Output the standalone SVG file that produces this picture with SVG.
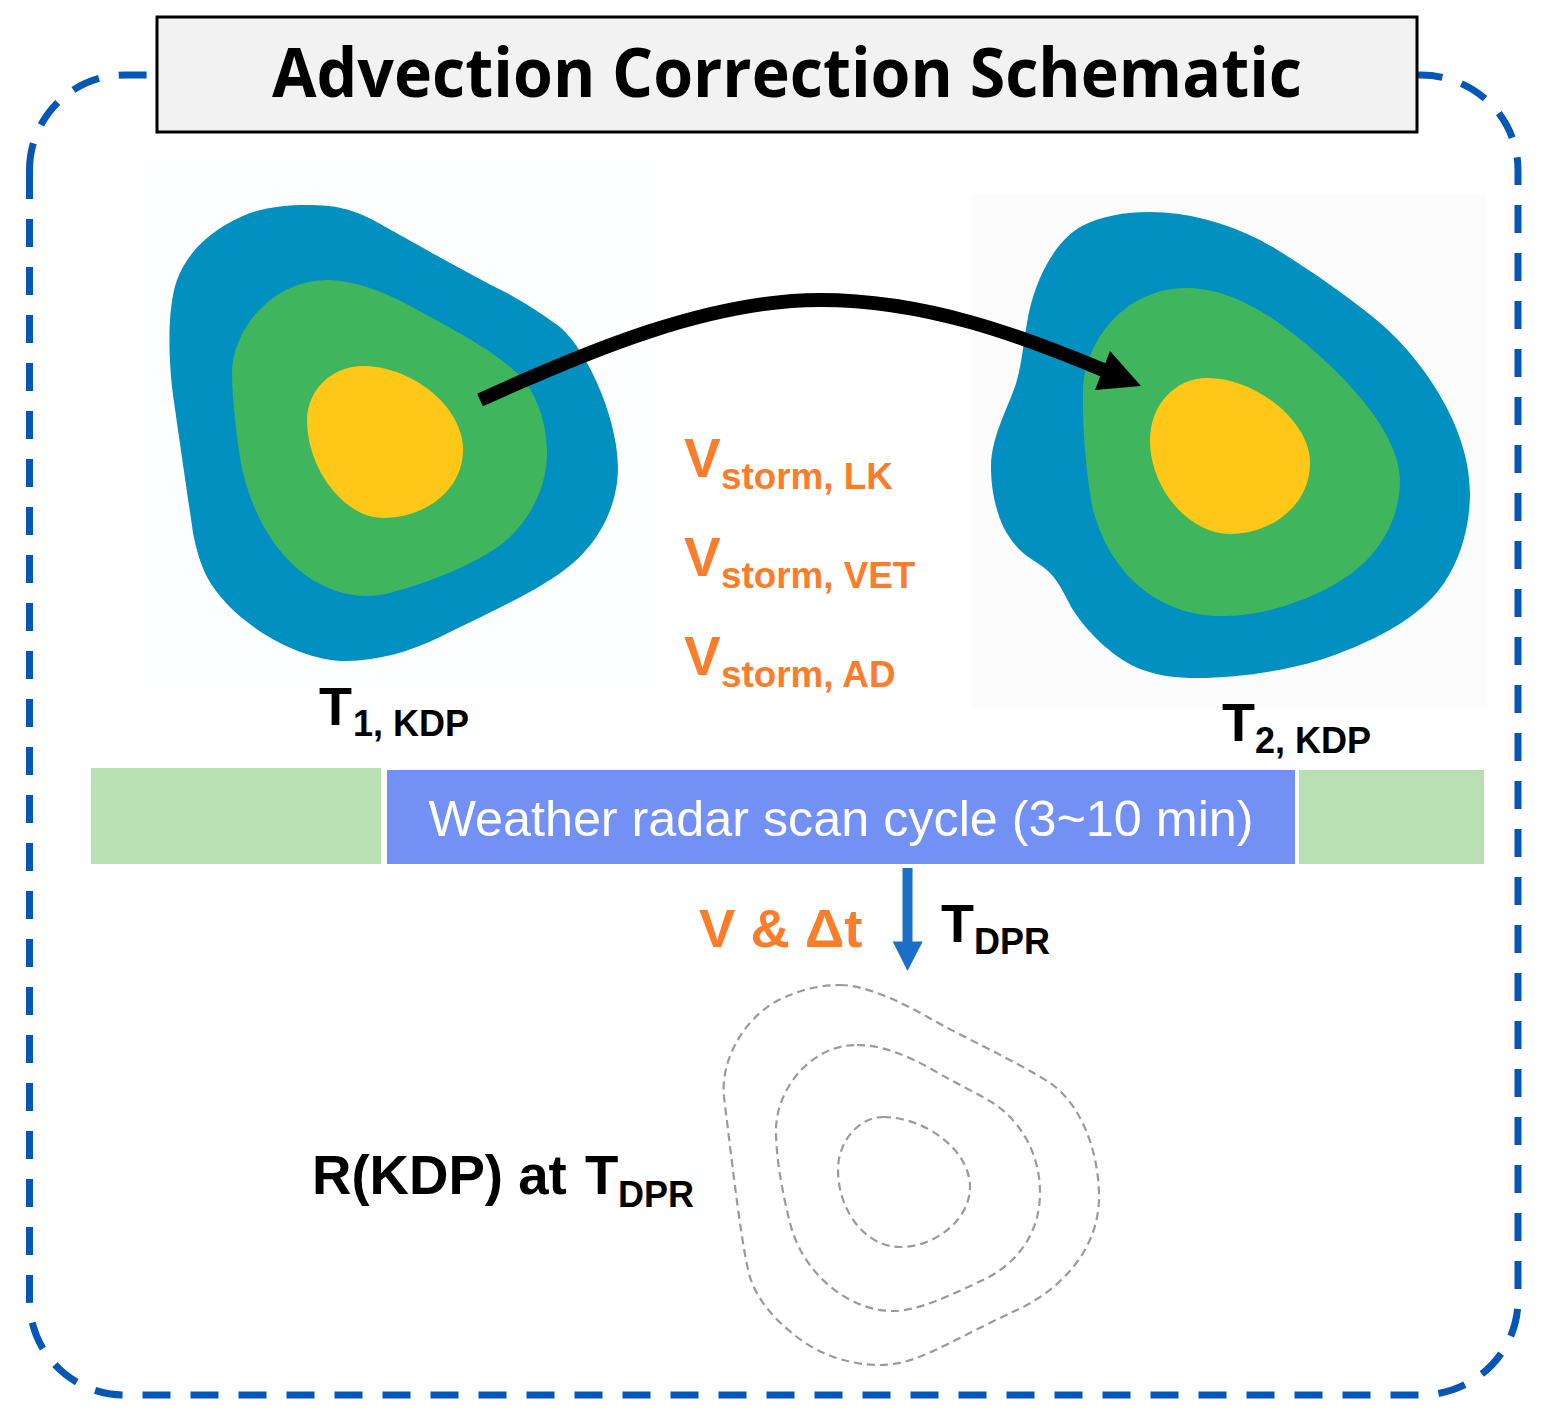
<svg xmlns="http://www.w3.org/2000/svg" width="1541" height="1415" viewBox="0 0 1541 1415">
  <style>
    .lab { font-family: "Liberation Sans", Arial, sans-serif; font-weight: 700; }
    .blue { fill: #0190bf; }
    .green { fill: #3fb55e; }
    .yellow { fill: #ffc717; }
    .dash { fill: none; stroke: #9a9a9a; stroke-width: 2.2; stroke-dasharray: 8 5; }
    .orange { fill: #fa7d2b; }
    .main { font-size: 54px; }
    .sub { font-size: 36px; }
    .vmain { font-size: 55px; }
    .vsub { font-size: 36.8px; }
  </style>
  <rect width="1541" height="1415" fill="#fff"/>

  <!-- outer dashed frame; the title box sits on top of its upper edge -->
  <path id="frame" d="M29.5 171V1300A95 95 0 0 0 124.5 1395H1421A97 95 0 0 0 1518 1300V170A97 95 0 0 0 1421 75H124.5A95 95 0 0 0 29.5 170Z" fill="none" stroke="#0457b5" stroke-width="7" stroke-dasharray="28 20"/>

  <g id="title">
    <rect x="157" y="17" width="1260" height="115" fill="#f2f2f2" stroke="#000" stroke-width="3"/>
    <text x="787" y="97" text-anchor="middle" font-family="'Open Sans', 'Noto Sans', sans-serif" font-weight="700" font-size="68" textLength="1030" lengthAdjust="spacingAndGlyphs">Advection Correction Schematic</text>
  </g>

  <g id="storm-t1">
    <rect x="140" y="170" width="520" height="510" fill="#fdfefe"/>
    <path class="blue" d="M307 205C335 205 352 209 373 220C395 232 470 275 507 293C530 306 545 316 560 327C588 351 618 420 618 467C618 505 600 540 573 563C545 588 490 612 440 637C410 652 375 661 347 661C295 661 230 620 207 577C200 563 196 548 193 533C187 490 177 425 172 387C168 350 168 305 177 280C190 245 220 225 250 213C268 207 288 205 307 205Z"/>
    <path class="green" d="M327 280C360 280 395 297 423 313C450 328 490 348 517 373C535 390 547 420 547 453C547 485 532 516 510 537C485 560 440 578 407 588C390 593 380 596 367 596C320 596 265 560 243 473C238 450 232 400 232 373C232 330 272 280 327 280Z"/>
    <path class="yellow" d="M363 366C410 366 463 405 463 450C463 490 425 518 383 518C345 518 307 470 307 420C307 390 332 366 363 366Z"/>
  </g>

  <g id="storm-t2">
    <rect x="971" y="195" width="516" height="513" fill="#fcfcfc"/>
    <path class="blue" d="M1150 212C1185 212 1225 222 1260 240C1290 256 1350 297 1380 323C1420 357 1470 425 1470 493C1470 530 1458 570 1433 597C1405 626 1365 645 1320 660C1280 672 1235 678 1197 678C1175 678 1160 676 1143 670C1115 660 1088 633 1073 610C1066 598 1060 583 1050 573C1040 563 1030 560 1020 550C1010 540 1002 527 998 513C993 497 991 482 991 467C991 435 1010 405 1017 380C1022 362 1023 345 1027 323C1032 290 1050 245 1080 227C1100 216 1125 212 1150 212Z"/>
    <path class="green" d="M1187 288C1218 288 1247 302 1270 317C1310 343 1400 420 1400 480C1400 510 1388 538 1367 560C1345 582 1310 600 1270 610C1250 615 1235 616 1220 616C1175 616 1115 590 1093 510C1087 480 1082 430 1083 390C1085 340 1125 288 1187 288Z"/>
    <path class="yellow" d="M1207 378C1255 378 1310 420 1310 463C1310 505 1272 534 1230 534C1190 534 1150 490 1150 440C1150 405 1175 378 1207 378Z"/>
  </g>

  <g id="connectors">
    <path d="M480 400C590 350 710 300 820 300C925 300 1020 335 1108 372" fill="none" stroke="#000" stroke-width="14"/>
    <path d="M1110 351L1141 386L1095 390Z" fill="#000"/>
    <path d="M907.5 868V942" fill="none" stroke="#1a70c8" stroke-width="10"/>
    <path d="M892.7 941.5H922.7L907.5 971Z" fill="#1a70c8"/>
  </g>

  <g id="label-t1" class="lab"><text x="319" y="725" class="main">T</text><text x="353" y="736" class="sub">1, KDP</text></g>
  <g id="label-t2" class="lab"><text x="1222" y="741" class="main">T</text><text x="1255" y="753" class="sub">2, KDP</text></g>

  <g id="velocity-labels" class="lab orange">
    <text x="684" y="477" class="vmain">V</text><text x="721" y="489" class="vsub">storm, LK</text>
    <text x="684" y="576" class="vmain">V</text><text x="721" y="588" class="vsub">storm, VET</text>
    <text x="684" y="675" class="vmain">V</text><text x="721" y="687" class="vsub">storm, AD</text>
  </g>

  <g id="timeline">
    <rect x="91" y="768" width="290" height="96" fill="#b9e0b2"/>
    <rect x="387" y="770" width="908" height="94" fill="#7391f5"/>
    <rect x="1299" y="770" width="185" height="94" fill="#b9e0b2"/>
    <text x="841" y="836" text-anchor="middle" font-family="'Liberation Sans', Arial, sans-serif" font-size="50.3" fill="#fff">Weather radar scan cycle (3~10 min)</text>
  </g>

  <g id="label-v-dt" class="lab orange"><text x="699" y="947" font-size="54.5">V &amp; Δt</text></g>
  <g id="label-tdpr" class="lab"><text x="941" y="942" class="main">T</text><text x="974" y="954" class="sub">DPR</text></g>

  <g id="storm-tdpr">
    <path class="dash" d="M840 985C865 985 900 1001 933 1020C955 1033 1020 1063 1050 1083C1080 1103 1099 1150 1099 1197C1099 1250 1060 1290 1017 1310C995 1320 970 1333 950 1343C925 1355 905 1365 880 1365C850 1365 820 1355 797 1337C775 1320 757 1300 750 1277C742 1250 733 1170 724 1097C720 1060 745 1015 783 998C800 990 820 985 840 985Z"/>
    <path class="dash" d="M857 1045C880 1045 905 1054 933 1070C955 1083 975 1092 993 1103C1022 1122 1040 1155 1040 1193C1040 1235 1015 1265 983 1280C955 1293 920 1311 893 1311C850 1311 803 1275 790 1223C783 1195 776 1160 776 1130C776 1090 810 1045 857 1045Z"/>
    <path class="dash" d="M883 1117C925 1117 970 1150 970 1187C970 1220 935 1247 900 1247C865 1247 838 1210 838 1170C838 1140 860 1117 883 1117Z"/>
  </g>

  <g id="label-rkdp" class="lab"><text x="312" y="1194" font-size="54.6">R(KDP) at <tspan dx="3">T</tspan></text><text x="618" y="1207" class="sub">DPR</text></g>
</svg>
